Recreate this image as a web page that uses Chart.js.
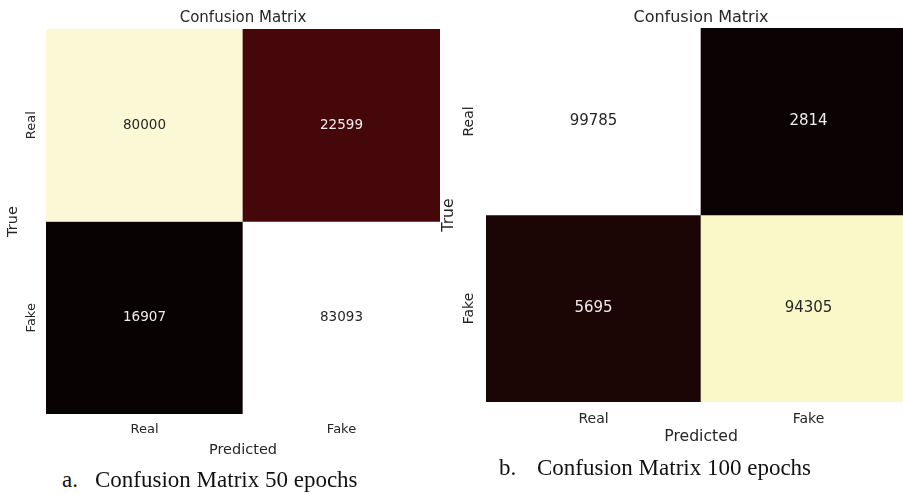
<!DOCTYPE html>
<html>
<head>
<meta charset="utf-8">
<script src="https://cdn.jsdelivr.net/npm/chart.js@4.4.1/dist/chart.umd.min.js"></script>
<style>
  html, body { margin: 0; padding: 0; background: #fff; overflow: hidden; width: 903px; height: 494px; }
  .box { position: absolute; top: 0; }
  #box50 { left: 0; width: 450px; height: 460px; }
  #box100 { left: 430px; width: 500px; height: 450px; }
  .cap { position: absolute; font-family: "Liberation Serif", "Times New Roman", serif; font-size: 23px; line-height: 23px; color: #111; white-space: nowrap; }
</style>
</head>
<body>
<div class="box" id="box50"><canvas id="cm50"></canvas></div>
<div class="box" id="box100"><canvas id="cm100"></canvas></div>
<div class="cap" style="left:62px; top:468px">a.</div>
<div class="cap" style="left:95px; top:468px">Confusion Matrix 50 epochs</div>
<div class="cap" style="left:499px; top:456px">b.</div>
<div class="cap" style="left:537px; top:456px">Confusion Matrix 100 epochs</div>
<script>
// labels
const predLabels = ['Real', 'Fake'];
const trueLabels = ['Real', 'Fake'];

// 50 epochs, one array per true row
const cm50Real = [80000, 22599];
const cm50Fake = [16907, 83093];

// 100 epochs
const cm100Real = [99785, 2814];
const cm100Fake = [5695, 94305];

// cell colours
const cm50RealColors = ['#fbf8d6', '#450709'];
const cm50FakeColors = ['#080203', '#ffffff'];
const cm100RealColors = ['#ffffff', '#0a0203'];
const cm100FakeColors = ['#1c0605', '#faf8c9'];

const dark = '#262626';
const light = '#f0ecec';
const FONT = 'DejaVu Sans';

function rowDataset(values, colors, row) {
    return {
        data: values.map((v, j) => ({ x: predLabels[j], y: [row, row + 1], v: v })),
        backgroundColor: colors,
        textColor: colors.map(c => (parseInt(c.slice(1, 3), 16) > 128 ? dark : light)),
        barPercentage: 1,
        categoryPercentage: 1,
        borderWidth: 0,
        borderSkipped: false,
        grouped: false
    };
}

// numbers in the middle of each cell
const cellText = {
    id: 'cellText',
    afterDatasetsDraw(chart, args, opts) {
        const ctx = chart.ctx;
        ctx.save();
        ctx.font = opts.size + 'px "' + FONT + '"';
        ctx.textAlign = 'center';
        ctx.textBaseline = 'middle';
        chart.data.datasets.forEach((ds, di) => {
            chart.getDatasetMeta(di).data.forEach((bar, j) => {
                ctx.fillStyle = ds.textColor[j];
                ctx.fillText(String(ds.data[j].v), bar.x, (bar.y + bar.base) / 2);
            });
        });
        ctx.restore();
    }
};

// rotated row labels on the y axis
const rowLabels = {
    id: 'rowLabels',
    afterDraw(chart, args, opts) {
        const ctx = chart.ctx;
        const y = chart.scales.y;
        ctx.save();
        ctx.font = opts.size + 'px "' + FONT + '"';
        ctx.fillStyle = dark;
        ctx.textAlign = 'center';
        ctx.textBaseline = 'middle';
        trueLabels.forEach((lab, i) => {
            ctx.save();
            ctx.translate(chart.chartArea.left - opts.offset, y.getPixelForValue(i + 0.5));
            ctx.rotate(-Math.PI / 2);
            ctx.fillText(lab, 0, 0);
            ctx.restore();
        });
        ctx.restore();
    }
};

function makeChart(id, rows, s) {
    return new Chart(document.getElementById(id), {
        type: 'bar',
        data: {
            labels: predLabels,
            datasets: rows.map((r, i) => rowDataset(r.values, r.colors, i))
        },
        options: {
            responsive: true,
            maintainAspectRatio: false,
            animation: false,
            layout: { padding: { left: 0, right: s.padRight, top: 0, bottom: s.padBottom } },
            plugins: {
                legend: { display: false },
                tooltip: { enabled: false },
                title: {
                    display: true,
                    text: 'Confusion Matrix',
                    fullSize: false,
                    color: dark,
                    font: { family: FONT, size: s.title, weight: 'normal' },
                    padding: s.titlePad
                },
                cellText: { size: s.cell },
                rowLabels: { size: s.tick, offset: s.rowOffset }
            },
            scales: {
                x: {
                    type: 'category',
                    offset: true,
                    grid: { display: false, drawTicks: false, tickLength: 0 },
                    border: { display: false },
                    ticks: { color: dark, padding: s.tickPad, font: { family: FONT, size: s.tick } },
                    title: {
                        display: true,
                        text: 'Predicted',
                        color: dark,
                        font: { family: FONT, size: s.axis },
                        padding: s.xTitlePad
                    },
                    // tick padding is counted twice in fit, take one back
                    afterFit: (scale) => { scale.height -= scale.options.ticks.padding; }
                },
                y: {
                    type: 'linear',
                    min: 0,
                    max: 2,
                    reverse: true,
                    grid: { display: false, drawTicks: false, tickLength: 0 },
                    border: { display: false },
                    ticks: { display: false },
                    title: {
                        display: true,
                        text: 'True',
                        color: dark,
                        font: { family: FONT, size: s.axis },
                        padding: s.yTitlePad
                    }
                }
            }
        },
        plugins: [cellText, rowLabels]
    });
}

makeChart('cm50', [
    { values: cm50Real, colors: cm50RealColors },
    { values: cm50Fake, colors: cm50FakeColors }
], {
    title: 15, tick: 13, axis: 14.5, cell: 13.5,
    titlePad: { top: 9, bottom: 2 },
    tickPad: 8.2,
    xTitlePad: { top: 3.5, bottom: 0 },
    yTitlePad: { top: 4.3, bottom: 24.3 },
    padRight: 10, padBottom: 1.3, rowOffset: 14
});

makeChart('cm100', [
    { values: cm100Real, colors: cm100RealColors },
    { values: cm100Fake, colors: cm100FakeColors }
], {
    title: 16, tick: 14, axis: 15.7, cell: 15,
    titlePad: { top: 7.9, bottom: 0.9 },
    tickPad: 8.6,
    xTitlePad: { top: 0.2, bottom: 0 },
    yTitlePad: { top: 9.6, bottom: 27.6 },
    padRight: 14, padBottom: 3.6, rowOffset: 17
});
</script>
</body>
</html>
